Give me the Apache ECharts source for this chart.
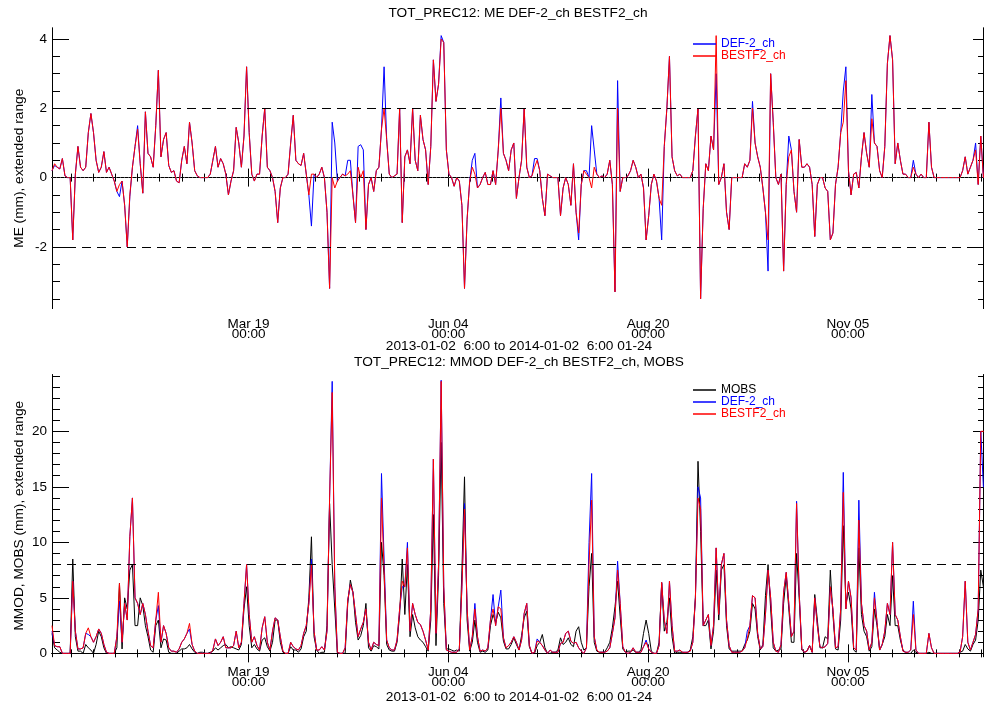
<!DOCTYPE html>
<html><head><meta charset="utf-8">
<script src="https://cdn.jsdelivr.net/npm/echarts@6/dist/echarts.min.js"></script>
<style>html,body{margin:0;padding:0;background:#fff}#c{width:994px;height:708px}</style>
</head><body><div id="c"></div>
<script>
// x = days since 2013-01-01 00:00 ; first sample 2013-01-02 06:00, one sample per day
const dayStart = 1.25;
const dayEnd = 360.1;
const tickDays = [77, 154, 231, 308];
const tickLabels = ['Mar 19\n00:00', 'Jun 04\n00:00', 'Aug 20\n00:00', 'Nov 05\n00:00'];
const meTicks = [-2, 0, 2, 4];
const mmTicks = [0, 5, 10, 15, 20];
const periodText = '2013-01-02  6:00 to 2014-01-02  6:00 01-24';
const titleTop = 'TOT_PREC12: ME DEF-2_ch BESTF2_ch';
const titleBottom = 'TOT_PREC12: MMOD DEF-2_ch BESTF2_ch, MOBS';

const meBest = [
0.2,0.4,0.3,0.25,0.55,0.05,0,0,-1.8,0.1,
0.9,0.3,0.2,0.3,1.3,1.85,1.3,0.5,0.15,0.3,
0.75,0.15,0.3,0.1,-0.1,-0.4,-0.2,-0.1,-0.8,-2.0,
-0.5,0.3,0.9,1.4,0.4,-0.45,1.9,0.7,0.6,0.3,
1.5,3.1,0.6,1.1,1.3,0.35,0.15,0.2,-0.1,-0.15,
0.5,0.9,0.4,1.6,1.0,0.2,0.05,0,0,0,
0,0.1,0.5,0.9,0.3,0.55,0.4,0.1,-0.5,-0.1,
0.2,1.45,1.0,0.3,1.2,3.2,1.3,0.1,-0.1,0.1,
0.1,1.2,2.0,0.3,0.2,0,-0.4,-1.3,-0.3,0,
0,0.1,1.0,1.8,0.5,0.4,0.35,0.7,0.1,-0.5,
0.1,0.1,0,0.1,0.3,0,-1.0,-3.2,0,-0.3,
-0.1,0,0.1,0.05,0.1,0.2,-0.5,-1.3,0.3,0,
0.2,-1.5,-0.2,0,-0.4,0.2,0.3,1.4,2.0,1.1,
0.1,0,0.05,0.1,2.0,-1.3,0.6,0.8,0.4,2.0,
0.5,0.2,1.8,1.1,0.8,-0.2,0.9,3.4,2.2,2.7,
4.0,3.9,0.8,0.1,0,-0.25,0,-0.1,-0.8,-3.2,
-1.2,-0.1,0.3,0.1,-0.3,-0.2,0,0.15,-0.2,-0.2,
0.2,-0.2,0.8,2.0,0.7,0.5,0.2,0.8,1.0,-0.6,
0,0.5,2.0,0.3,0,0.05,0.3,0.5,0.2,-0.6,
-1.1,0.1,0.05,0,0,0,-1.1,-0.3,0,-0.2,
-0.8,0.4,-1.0,-1.6,-0.2,0.2,0.1,0,-0.3,0.3,
0.1,0,0.05,0,0.1,0.5,-0.2,-3.3,2.0,-0.4,
0,0,0.05,0.2,0.5,0.3,0,0.1,-0.3,-1.8,
-1.1,-0.2,0.1,-0.1,-0.6,-0.8,0.9,2.0,3.5,0.6,
0.2,0.05,0.1,0,0,0,0,0.2,1.2,2.0,
-3.5,-0.9,0.4,0.2,1.2,0.8,4.1,-0.2,0,0.4,
-1.0,-1.5,0,0,0,0,0,0.4,0.3,0.5,
2.0,1.0,0.6,0.3,-0.3,-1.0,-1.8,3.0,1.6,0,
-0.2,0.1,-2.7,-0.2,0.6,0.8,-0.4,-1.0,1.1,0.3,
0.3,0.4,0.3,-0.2,-1.7,-0.2,0,0,-0.3,-0.4,
-1.8,-1.6,-0.2,0.3,1.3,1.6,2.8,0.2,-0.5,0.1,
0.15,-0.3,0.6,1.3,0.7,0.3,1.7,1.0,0.9,0.2,
0,0.9,3.3,4.1,3.4,0.4,1.0,0.5,0.1,0.1,
0,0,0.3,0.1,0,0.1,0,0,1.6,0.3,
0,0,0,0,0,0,0,0,0,0,
0,0.2,0.6,0.1,0.3,0.5,0.8,-0.2,1.2,0,
0.4,-0.5,-1.0,-0.6];

const meDef = [
0.2,0.35,0.3,0.25,0.55,0.05,0,0,-1.8,0.1,
0.9,0.3,0.2,0.3,1.3,1.85,1.3,0.5,0.15,0.3,
0.75,0.15,0.3,0.1,-0.1,-0.4,-0.55,-0.1,-0.8,-2.0,
-0.55,0.3,0.9,1.5,0.4,-0.45,1.9,0.7,0.6,0.3,
1.5,3.1,0.6,1.1,1.3,0.35,0.15,0.2,-0.1,-0.15,
0.5,0.9,0.4,1.6,1.0,0.2,0.05,0,0,0,
0,0.1,0.5,0.9,0.3,0.55,0.4,0.1,-0.5,-0.1,
0.2,1.45,1.0,0.3,1.2,3.2,1.3,0.1,-0.1,0.1,
0.1,1.2,2.0,0.3,0.2,0,-0.4,-1.3,-0.3,0,
0,0.1,1.0,1.8,0.5,0.4,0.35,0.7,0.1,-0.5,
-1.4,0.1,0,0.1,0.3,0,-1.0,-3.2,1.6,1.0,
-0.1,0,0.1,0.05,0.5,0.5,-0.5,-1.3,0.9,0.95,
0.8,-1.5,-0.2,0,-0.4,0.2,0.3,1.4,3.2,1.1,
0.1,0,0.05,0.1,2.0,-1.3,0.6,0.8,0.4,2.0,
0.5,0.2,1.8,1.1,0.8,-0.2,0.9,3.4,2.2,2.7,
4.1,3.9,0.8,0.1,0,-0.25,0,-0.1,-0.8,-3.2,
-1.2,-0.1,0.5,0.7,-0.3,-0.2,0,0.15,-0.2,-0.2,
0.2,-0.2,0.8,2.3,0.7,0.5,0.2,0.8,1.0,-0.6,
0,0.5,2.0,0.3,0,0.05,0.55,0.55,0.2,-0.6,
-1.1,0.1,0.05,0,0,0,-1.1,-0.3,0,-0.2,
-0.8,0.4,-1.0,-1.8,-0.2,0.2,0.2,0,1.5,0.8,
0.1,0,0.05,0,0.1,0.5,-0.2,-3.3,2.8,-0.4,
0,0,0.05,0.2,0.5,0.3,0,0.1,-0.3,-1.8,
-1.1,-0.2,0.1,-0.1,-0.6,-1.8,0.9,2.0,3.5,0.6,
0.2,0.05,0.1,0,0,0,0,0.2,1.2,2.0,
-3.5,-0.9,0.4,0.2,1.2,0.8,3.0,-0.2,0,0.4,
-1.0,-1.5,0,0,0,0,0,0.4,0.3,0.5,
2.2,1.0,0.6,0.3,-0.3,-1.0,-2.7,3.0,1.6,0,
-0.2,0.1,-2.7,-0.2,1.2,0.8,-0.4,-1.0,1.1,0.3,
0.3,0.4,0.3,-0.2,-1.7,-0.2,0,0,-0.3,-0.4,
-1.8,-1.6,-0.2,0.3,1.3,2.5,3.2,0.2,-0.5,0.1,
0.15,-0.3,0.6,1.3,0.7,0.3,2.4,1.0,0.9,0.2,
0,0.9,3.3,4.1,3.4,0.4,1.0,0.5,0.1,0.1,
0,0,0.5,0.1,0,0.1,0,0,1.6,0.3,
0,0,0,0,0,0,0,0,0,0,
0,0.2,0.6,0.1,0.3,0.5,1.0,-0.2,1.2,0,
0.4,-1.0,-1.5,-0.6];

const mmodBest = [
2.5,0.7,0.6,0.6,0,0,0,0,6.5,2.0,
0.4,0.4,0.5,1.8,2.3,1.5,1.0,1.5,2.2,1.8,
0.8,0.1,0,0,0,1.5,6.3,1.0,4.5,3.0,
10.5,14.0,5.0,4.5,3.5,4.5,3.5,2.0,0.7,0.5,
3.0,5.5,1.0,2.5,1.8,0.5,0.2,0.2,0.1,0.4,
1.0,1.3,1.8,2.7,0.8,0.2,0,0,0,0,
0,0,0.3,1.3,0.7,1.0,1.5,0.5,0.5,0.5,
0.7,2.0,0.5,1.0,4.5,8.0,3.5,1.0,1.5,0.7,
0.3,2.3,3.3,1.0,0.3,2.0,3.2,3.0,1.5,0.2,
0,0,1.0,0.6,0.4,0.3,0.7,1.8,2.5,4.5,
8.0,2.0,0.3,0.3,0.6,0.3,2.0,14.0,23.5,6.0,
0.1,0,0,0.5,4.8,6.2,5.5,3.5,1.5,2.2,
2.8,4.0,1.0,0.3,1.0,0.8,0.7,14.0,7.5,1.2,
0.5,0.3,0.3,1.2,4.0,6.5,6.0,9.5,2.0,4.5,
3.5,2.8,2.6,2.0,1.2,0.3,4.0,17.5,1.8,8.0,
24.5,6.0,0.3,0.2,0.1,0.1,0.1,0.4,6.0,13.0,
4.0,0.3,1.5,4.0,1.5,0.2,0.3,0.2,0.5,3.0,
4.0,2.5,4.2,4.0,1.4,0.5,0.7,1.0,1.5,1.0,
0.3,1.2,3.6,4.5,0.7,0,0.1,1.1,1.0,0.7,
0.3,0,0.3,0.1,0.1,0.1,0.9,1.0,1.8,2.0,
1.1,0.9,1.0,0.5,0.2,0,0.5,8.0,13.8,1.5,
0.3,0.1,0.1,0.1,0.2,0.5,1.8,3.2,7.5,4.5,
0.6,0.1,0,0.1,0.5,0.1,0.1,0.1,0.6,1.0,
0.4,0.1,0,0,0.7,6.4,3.0,1.8,6.5,2.5,
0.2,0.2,0.3,0.1,0.1,0.1,0.2,1.0,5.0,14.0,
13.0,2.5,3.0,3.5,0.7,2.5,9.5,3.5,8.0,9.0,
3.0,0.7,0.1,0.1,0.1,0.1,0.2,0.5,1.3,2.5,
5.2,5.0,1.8,0.4,0.6,3.5,7.5,5.0,1.0,0.2,
0.1,0.8,5.5,7.3,4.5,1.5,2.0,13.5,5.5,0.4,
0.1,0.2,0.7,0.1,5.0,2.5,0.6,0.5,0.6,0.9,
6.0,4.0,0.5,0.6,4.0,14.5,4.0,6.5,5.0,0.5,
0.3,12.0,4.5,2.5,2.0,0.3,1.0,5.0,2.8,0.3,
0.8,2.0,4.5,3.5,10.0,3.5,3.0,1.5,0.2,0.1,
0.1,0.3,3.5,0.3,0,0,0,0,1.8,0.5,
0,0,0,0,0,0,0,0,0,0,
0.1,1.5,6.5,1.0,0.3,1.0,1.7,4.0,20.0,20.0,
20.0,20.0,20.0,20.0];

const mmodDef = [
2.0,0.7,0.6,0.6,0,0,0,0,6.5,2.0,
0.4,0.4,0.5,1.8,1.7,1.5,1.0,1.5,2.2,1.8,
0.8,0.1,0,0,0,1.5,4.7,1.0,4.5,3.0,
10.5,14.0,5.0,4.5,3.5,4.5,3.5,2.0,0.7,0.5,
3.0,4.3,1.0,2.5,1.8,0.5,0.2,0.2,0.1,0.4,
1.0,1.3,1.8,2.2,0.8,0.2,0,0,0,0,
0,0,0.3,1.3,0.7,1.0,1.5,0.5,0.5,0.5,
0.7,2.0,0.5,1.0,4.5,8.0,3.5,1.0,1.5,0.7,
0.3,2.3,3.3,1.0,0.3,2.0,3.2,3.0,1.5,0.2,
0,0,1.0,0.6,0.4,0.3,0.7,1.8,2.5,4.5,
8.5,2.0,0.3,0.3,0.6,0.3,2.0,14.0,24.5,6.0,
0.1,0,0,0.5,4.8,6.2,5.5,3.5,1.5,2.2,
2.8,4.0,1.0,0.3,1.0,0.8,0.7,16.2,8.5,1.2,
0.5,0.3,0.3,1.2,4.0,6.0,6.0,10.0,2.0,4.5,
3.5,2.8,2.6,2.0,1.2,0.3,4.0,17.5,1.8,8.0,
24.6,6.0,0.3,0.2,0.1,0.1,0.1,0.4,6.0,13.5,
4.0,0.3,1.5,4.5,1.5,0.2,0.3,0.2,0.5,3.0,
5.3,2.5,4.2,5.7,1.4,0.5,0.7,1.0,1.5,1.0,
0.3,1.2,3.6,4.5,0.7,0,0.1,1.3,1.0,0.7,
0.3,0,0.3,0.1,0.1,0.1,0.9,1.0,1.8,2.0,
1.1,0.9,1.0,0.5,0.2,0,0.5,10.0,16.2,1.5,
0.3,0.1,0.1,0.1,0.2,0.5,1.8,3.2,8.3,4.5,
0.6,0.1,0,0.1,0.5,0.1,0.1,0.1,0.6,1.2,
0.4,0.1,0,0,0.7,6.4,3.0,1.8,6.5,2.5,
0.2,0.2,0.3,0.1,0.1,0.1,0.2,1.0,5.0,15.0,
14.0,2.5,3.0,3.5,0.7,2.5,9.5,3.5,8.0,9.0,
3.0,0.7,0.1,0.1,0.1,0.1,0.2,0.5,2.0,2.5,
5.2,5.0,1.8,0.4,0.6,3.5,7.5,5.0,1.0,0.2,
0.1,0.8,5.5,7.3,4.5,1.5,2.0,13.7,5.5,0.4,
0.1,0.2,0.7,0.1,5.0,2.5,0.6,0.5,0.6,0.9,
6.0,4.0,0.5,0.6,4.0,16.3,4.0,6.5,5.0,0.5,
0.3,13.8,4.5,2.5,2.0,0.3,1.0,5.5,2.8,0.3,
0.8,2.0,4.5,3.5,10.0,3.5,3.0,1.5,0.2,0.1,
0.1,0.3,4.7,0.3,0,0,0,0,1.8,0.5,
0,0,0,0,0,0,0,0,0,0,
0.1,1.5,6.5,1.0,0.3,1.0,1.7,4.0,20.0,15.0,
15.0,15.0,15.0,15.0];

const mobs = [
1.8,0.5,0.3,0.1,0,0,0,0,8.5,1.5,
0.2,0.2,0,0.8,0.5,0.3,0,0.8,2.0,1.5,
0.5,0,0,0,0,0.5,6.3,0.4,5.0,4.0,
7.5,8.0,2.5,2.5,5.0,4.3,2.5,1.5,0.3,0.1,
2.5,3.0,0.5,1.3,1.2,0.1,0,0,0,0.2,
0.4,0.4,0.5,0.8,0.4,0.1,0,0.1,0.1,0,
0,0.1,0.2,0.5,0.3,0.5,0.7,0.8,0.5,0.6,
0.5,0.4,0.3,0.8,4.0,6.0,2.5,0.5,0.8,0.4,
0.2,1.2,1.4,0.6,0.2,1.0,3.0,3.0,1.0,0.1,
0,0,0.6,0.3,0.3,0.1,0.4,1.5,2.0,5.0,
10.5,1.5,0.3,0,0.1,0.1,2.5,13.5,8.0,4.0,
0,0,0,0,4.5,6.6,5.5,2.8,1.2,1.6,
2.5,4.5,0.5,0.2,0.7,0.6,0.4,10.0,7.0,0.8,
0.3,0.2,0.2,1.0,3.5,8.5,3.5,8.0,1.5,3.5,
2.3,1.5,1.2,1.0,0.6,0.2,3.0,12.5,0.7,7.0,
19.0,4.5,0.4,0.4,0.3,0.2,0.3,0.2,7.5,15.9,
3.0,0.2,1.0,3.0,1.0,0.1,0.2,0.1,0.3,2.5,
3.5,2.8,3.7,3.2,1.1,0.4,0.4,0.8,1.4,0.8,
0.3,1.6,3.2,3.8,0.6,0,0,0.7,1.0,1.7,
0.5,0,0,0.1,0.1,0.3,1.4,0.8,1.0,1.4,
0.8,0.6,2.0,2.4,1.0,0.3,0.5,6.0,9.0,1.0,
0.2,0.1,0.1,0.1,0.5,1.0,2.3,4.2,6.5,3.3,
0.4,0.1,0.2,0.2,0.3,0.1,0.1,0.3,1.8,3.0,
1.8,0.2,0,0,1.0,6.3,2.0,2.8,5.0,1.5,
0,0.1,0.1,0.1,0,0.1,0.3,1.5,5.0,17.3,
11.0,2.5,2.5,3.0,0.4,2.0,7.5,3.0,7.5,8.0,
2.5,0.4,0.2,0.2,0.2,0.2,0.2,0.8,1.2,2.0,
4.5,4.0,1.5,0.3,0.8,5.2,8.0,4.0,0.5,0.2,
0.3,0.4,4.5,7.0,4.0,1.0,1.0,9.0,5.0,0.3,
0.1,0.2,0.7,0.1,5.3,3.0,0.5,0.5,1.5,1.3,
7.5,3.5,0.4,0.3,3.0,11.5,4.5,5.5,4.0,0.3,
0.1,9.5,3.5,2.0,1.5,0.2,0.6,4.0,2.5,0.3,
0.8,1.5,3.5,2.5,7.0,2.5,2.5,1.2,0.3,0.1,
0,0,0.3,0.1,0,0,0,0,0.1,0,
0,0,0,0,0,0,0,0,0,0,
0.1,0.2,0.8,0.4,0.2,0.8,1.2,3.0,7.5,6.0,
7.0,5.0,7.0,6.0];

const FONT = 'Liberation Sans, Arial, sans-serif';
const AX = {color: '#000', width: 1};
const toXY = arr => arr.map((v, i) => [dayStart + i, v]);

const minorX = [];
for (let k = 1; k * 77 / 9 <= dayEnd; k++) minorX.push(k * 77 / 9);
const meMinor = [];
for (let k = -7; k <= 8; k++) meMinor.push(k / 2);
const mmMinor = [];
for (let k = 0; k <= 25; k++) mmMinor.push(k);

function xs(g) {
  const base = {gridIndex: g, type: 'value', min: dayStart, max: dayEnd, splitLine: {show: false},
    axisLine: {show: true, lineStyle: AX}};
  return [
    Object.assign({}, base, {position: 'bottom', axisTick: {inside: true, length: 4, customValues: minorX, lineStyle: AX}, axisLabel: {show: false}}),
    Object.assign({}, base, {position: 'bottom', axisTick: {inside: true, length: 9, customValues: tickDays, lineStyle: AX},
      axisLabel: {customValues: tickDays, formatter: v => tickLabels[tickDays.indexOf(v)], color: '#000', fontSize: 13.5, lineHeight: 10, margin: 11, fontFamily: FONT}}),
    Object.assign({}, base, {position: 'top', axisTick: {inside: true, length: 4, customValues: minorX, lineStyle: AX}, axisLabel: {show: false}}),
    Object.assign({}, base, {position: 'top', axisTick: {inside: true, length: 9, customValues: tickDays, lineStyle: AX}, axisLabel: {show: false}})
  ];
}
function ys(g, min, max, minor, major, name) {
  const base = {gridIndex: g, type: 'value', min: min, max: max, splitLine: {show: false},
    axisLine: {show: true, lineStyle: AX}};
  return [
    Object.assign({}, base, {position: 'left', axisTick: {inside: true, length: 8, customValues: minor, lineStyle: AX}, axisLabel: {show: false},
      name: name, nameLocation: 'middle', nameGap: 26, nameTextStyle: {color: '#000', fontSize: 13.7, fontFamily: FONT}}),
    Object.assign({}, base, {position: 'left', axisTick: {inside: true, length: 17, customValues: major, lineStyle: AX},
      axisLabel: {customValues: major, color: '#000', fontSize: 13.5, margin: 5, fontFamily: FONT}}),
    Object.assign({}, base, {position: 'right', axisTick: {inside: true, length: 5, customValues: minor, lineStyle: AX}, axisLabel: {show: false}}),
    Object.assign({}, base, {position: 'right', axisTick: {inside: true, length: 10, customValues: major, lineStyle: AX}, axisLabel: {show: false}})
  ];
}
function line(name, data, xi, yi, color) {
  return {name: name, type: 'line', xAxisIndex: xi, yAxisIndex: yi, data: toXY(data), z: 3,
    showSymbol: false, symbol: 'none', clip: false, animation: false,
    lineStyle: {color: color, width: 1}, itemStyle: {color: color}};
}
function refLines(xi, yi, items) {
  return {type: 'line', xAxisIndex: xi, yAxisIndex: yi, data: [], z: 1, silent: true,
    markLine: {silent: true, symbol: 'none', label: {show: false}, animation: false, data: items}};
}
const dash = {color: '#000', width: 1, type: [9, 6]};
const dots = {color: '#555', width: 1, type: [1, 3]};
const chart = echarts.init(document.getElementById('c'), null, {renderer: 'canvas'});
chart.setOption({
  backgroundColor: '#fff',
  animation: false,
  grid: [
    {left: 52, right: 11, top: 28, height: 280.5},
    {left: 52, right: 11, top: 374.7, height: 282}
  ],
  xAxis: xs(0).concat(xs(1)),
  yAxis: ys(0, -3.78, 4.32, meMinor, meTicks, 'ME (mm), extended range')
    .concat(ys(1, -0.3, 25.1, mmMinor, mmTicks, 'MMOD, MOBS (mm), extended range')),
  legend: [
    {left: 688, top: 33, orient: 'vertical', itemGap: 0, itemWidth: 23, itemHeight: 1.5, icon: 'rect', selectedMode: false,
      textStyle: {fontSize: 12, lineHeight: 11, fontFamily: FONT},
      data: [{name: 'DEF-2_ch', textStyle: {color: '#0000ff'}}, {name: 'BESTF2_ch', textStyle: {color: '#ff0000'}}]},
    {left: 688, top: 379, orient: 'vertical', itemGap: 0, itemWidth: 23, itemHeight: 1.5, icon: 'rect', selectedMode: false,
      textStyle: {fontSize: 12, lineHeight: 11, fontFamily: FONT},
      data: [{name: 'MOBS', textStyle: {color: '#000'}}, {name: 'DEF-2_ch', textStyle: {color: '#0000ff'}}, {name: 'BESTF2_ch', textStyle: {color: '#ff0000'}}]}
  ],
  series: [
    refLines(0, 0, [{yAxis: 2, lineStyle: dash}, {yAxis: -2, lineStyle: dash}, {yAxis: 0, lineStyle: dots}]),
    line('DEF-2_ch', meDef, 0, 0, '#0000ff'),
    line('BESTF2_ch', meBest, 0, 0, '#ff0000'),
    refLines(4, 4, [{yAxis: 8, lineStyle: dash}]),
    line('MOBS', mobs, 4, 4, '#000000'),
    line('DEF-2_ch', mmodDef, 4, 4, '#0000ff'),
    line('BESTF2_ch', mmodBest, 4, 4, '#ff0000')
  ],
  graphic: [
    {type: 'text', x: 518, y: 13, style: {text: titleTop, fill: '#000', font: '13.7px ' + FONT, textAlign: 'center', textVerticalAlign: 'middle'}},
    {type: 'text', x: 519, y: 346, style: {text: periodText, fill: '#000', font: '13.7px ' + FONT, textAlign: 'center', textVerticalAlign: 'middle'}},
    {type: 'text', x: 519, y: 362, style: {text: titleBottom, fill: '#000', font: '13.7px ' + FONT, textAlign: 'center', textVerticalAlign: 'middle'}},
    {type: 'text', x: 519, y: 697, style: {text: periodText, fill: '#000', font: '13.7px ' + FONT, textAlign: 'center', textVerticalAlign: 'middle'}}
  ]
});
</script></body></html>
